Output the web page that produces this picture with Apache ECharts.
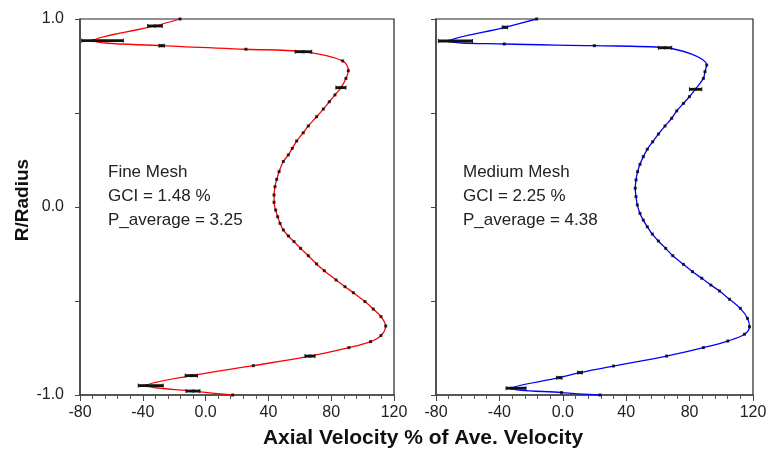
<!DOCTYPE html>
<html lang="en">
<head>
    <meta charset="UTF-8">
    <title>Axial Velocity profiles</title>
    <style>
        *{ margin: 0; padding: 0;}
        body{ background: #fff;}
        #chart{ width: 770px; height: 450px;}
    </style>
    <script src="https://cdn.jsdelivr.net/npm/echarts@6/dist/echarts.min.js"></script>
</head>
<body>
    <div id="chart"></div>
    <script>
        // 数据 (R/Radius, axial velocity %)
        var fineR = [1.0, 0.963, 0.885, 0.858, 0.839, 0.826, 0.777, 0.725, 0.684, 0.635, 0.596, 0.56, 0.521, 0.48, 0.431, 0.395, 0.351, 0.312, 0.277, 0.242, 0.188, 0.147, 0.108, 0.064, 0.025, -0.016, -0.052, -0.087, -0.122, -0.154, -0.184, -0.22, -0.259, -0.303, -0.339, -0.388, -0.424, -0.456, -0.503, -0.543, -0.583, -0.633, -0.684, -0.716, -0.748, -0.793, -0.844, -0.897, -0.95, -0.979, -1.0];
        var fineV = [-16.3, -32.2, -71.5, -28, 25.7, 62.2, 87.3, 90.9, 89.4, 86.2, 82.4, 78.8, 75, 70.7, 65.4, 62.2, 58, 55.2, 52.7, 49.5, 46.8, 45.3, 44.2, 43.6, 43.6, 44.6, 45.9, 47.4, 49.5, 52.7, 56.3, 60.5, 65.4, 70.7, 75.6, 83.1, 88.8, 94.1, 101.5, 106.8, 111.7, 114.7, 111.7, 105.1, 91.3, 66.5, 30.4, -8.9, -37.5, -7.9, 17.2];
        var fineErrR = [0.963, 0.885, 0.858, 0.826, 0.635, -0.793, -0.897, -0.95, -0.979];
        var fineErrLo = [-36.9, -78.9, -29.7, 57, 83, 63.3, -13, -42.9, -12.5];
        var fineErrHi = [-27.6, -52.4, -26.3, 67.6, 89.4, 69.7, -5.2, -27, -3.6];

        var medR = [1.0, 0.956, 0.883, 0.867, 0.858, 0.847, 0.755, 0.72, 0.684, 0.626, 0.587, 0.551, 0.511, 0.472, 0.431, 0.388, 0.347, 0.307, 0.268, 0.227, 0.188, 0.144, 0.1, 0.055, 0.011, -0.034, -0.07, -0.105, -0.144, -0.181, -0.22, -0.259, -0.305, -0.344, -0.379, -0.415, -0.447, -0.491, -0.539, -0.592, -0.637, -0.677, -0.713, -0.748, -0.793, -0.846, -0.881, -0.908, -0.964, -0.987, -1.0];
        var medV = [-16.5, -36.5, -71.2, -36.9, 19.9, 64.5, 90.8, 89.7, 88.7, 83.6, 79.9, 76.1, 71.9, 68.7, 64.5, 60.3, 56.7, 53.3, 50.8, 48.7, 47.2, 46.2, 45.7, 46.2, 47.0, 48.7, 50.8, 53.3, 56.5, 60.3, 64.9, 69.4, 76.1, 81.8, 87.7, 93.4, 98.9, 105.2, 112, 116.5, 117.8, 114.6, 104.1, 88.7, 65.5, 31.9, 10.9, -2.2, -32.2, -0.8, 23.5];
        var medErrR = [0.956, 0.883, 0.847, 0.626, -0.881, -0.908, -0.964];
        var medErrLo = [-38.2, -78.5, 60.3, 79.9, 9.4, -3.9, -35.8];
        var medErrHi = [-34.8, -57, 68.7, 87.7, 12.3, -0.5, -23.2];

        var xTicks = { min: -80, max: 120, interval: 40 };
        var yTicks = { min: -1, max: 1, interval: 0.5 };

        var font = '"Liberation Sans", Arial, sans-serif';
        var myChart = echarts.init(document.getElementById("chart"));

        function pairs(xs, ys) {
            return xs.map(function (v, i) { return [v, ys[i]]; });
        }
        function errData(lo, hi, r) {
            return r.map(function (y, i) { return [lo[i], hi[i], y]; });
        }

        // 水平误差棒
        function errRender(params, api) {
            var a = api.coord([api.value(0), api.value(2)]);
            var b = api.coord([api.value(1), api.value(2)]);
            var st = { stroke: "#111", lineWidth: 1 };
            return {
                type: "group",
                children: [
                    { type: "line", shape: { x1: a[0], y1: a[1], x2: b[0], y2: b[1] }, style: { stroke: "#111", lineWidth: 2.8 } },
                    { type: "line", shape: { x1: a[0], y1: a[1] - 2, x2: a[0], y2: a[1] + 2 }, style: st },
                    { type: "line", shape: { x1: b[0], y1: b[1] - 2, x2: b[0], y2: b[1] + 2 }, style: st }
                ]
            };
        }

        function xAxis(idx) {
            return {
                type: "value", gridIndex: idx,
                min: xTicks.min, max: xTicks.max, interval: xTicks.interval,
                axisLine: { show: true, onZero: false, lineStyle: { color: "#444", width: 1.5 } },
                axisTick: { show: true, length: 6, lineStyle: { color: "#444" } },
                minorTick: { show: true, splitNumber: 5, length: 4, lineStyle: { color: "#555" } },
                splitLine: { show: false },
                axisLabel: {
                    color: "#222", fontSize: 16, fontFamily: font, margin: 10,
                    formatter: function (v) { return v === 0 ? "0.0" : String(v); }
                }
            };
        }
        function yAxis(idx, labels) {
            return {
                type: "value", gridIndex: idx,
                min: yTicks.min, max: yTicks.max, interval: yTicks.interval,
                axisLine: { show: true, onZero: false, lineStyle: { color: "#444", width: 1.5 } },
                axisTick: { show: true, length: 5, lineStyle: { color: "#444" } },
                splitLine: { show: false },
                axisLabel: {
                    show: labels, color: "#222", fontSize: 16, fontFamily: font, margin: 16,
                    formatter: function (v) {
                        if (v === 1) return "1.0";
                        if (v === 0) return "0.0";
                        if (v === -1) return "-1.0";
                        return "";
                    }
                }
            };
        }

        function panelSeries(idx, xs, ys, lo, hi, er, color) {
            return [{
                type: "line", xAxisIndex: idx, yAxisIndex: idx,
                data: pairs(xs, ys), smooth: 0.35, showSymbol: false,
                lineStyle: { color: color, width: 1.3 }, z: 2, animation: false
            }, {
                type: "scatter", xAxisIndex: idx, yAxisIndex: idx,
                data: pairs(xs, ys), symbol: "rect", symbolSize: 3,
                itemStyle: { color: "#000" }, z: 3, animation: false
            }, {
                type: "custom", xAxisIndex: idx, yAxisIndex: idx,
                data: errData(lo, hi, er), renderItem: errRender,
                encode: { x: [0, 1], y: 2 }, z: 4, animation: false
            }];
        }

        var option = {
            animation: false,
            grid: [
                { left: 80, top: 19, width: 314, height: 376, show: true, borderColor: "#222", borderWidth: 1.2 },
                { left: 436, top: 19, width: 317, height: 376, show: true, borderColor: "#222", borderWidth: 1.2 }
            ],
            xAxis: [xAxis(0), xAxis(1)],
            yAxis: [yAxis(0, true), yAxis(1, false)],
            series: panelSeries(0, fineV, fineR, fineErrLo, fineErrHi, fineErrR, "#ff0000")
                .concat(panelSeries(1, medV, medR, medErrLo, medErrHi, medErrR, "#0000ff")),
            graphic: [{
                type: "text", x: 108, y: 160,
                style: { text: "Fine Mesh\nGCI = 1.48 %\nP_average = 3.25", font: "17px " + font, lineHeight: 24, fill: "#222" }
            }, {
                type: "text", x: 463, y: 160,
                style: { text: "Medium Mesh\nGCI = 2.25 %\nP_average = 4.38", font: "17px " + font, lineHeight: 24, fill: "#222" }
            }, {
                type: "text", x: 423, y: 438,
                style: { text: "Axial Velocity % of Ave. Velocity", font: "bold 21px " + font, fill: "#111", textAlign: "center", textVerticalAlign: "middle" }
            }, {
                type: "text", x: 23, y: 200, rotation: Math.PI / 2,
                style: { text: "R/Radius", font: "bold 19px " + font, fill: "#111", textAlign: "center", textVerticalAlign: "middle" }
            }]
        };
        myChart.setOption(option);
    </script>
</body>
</html>
